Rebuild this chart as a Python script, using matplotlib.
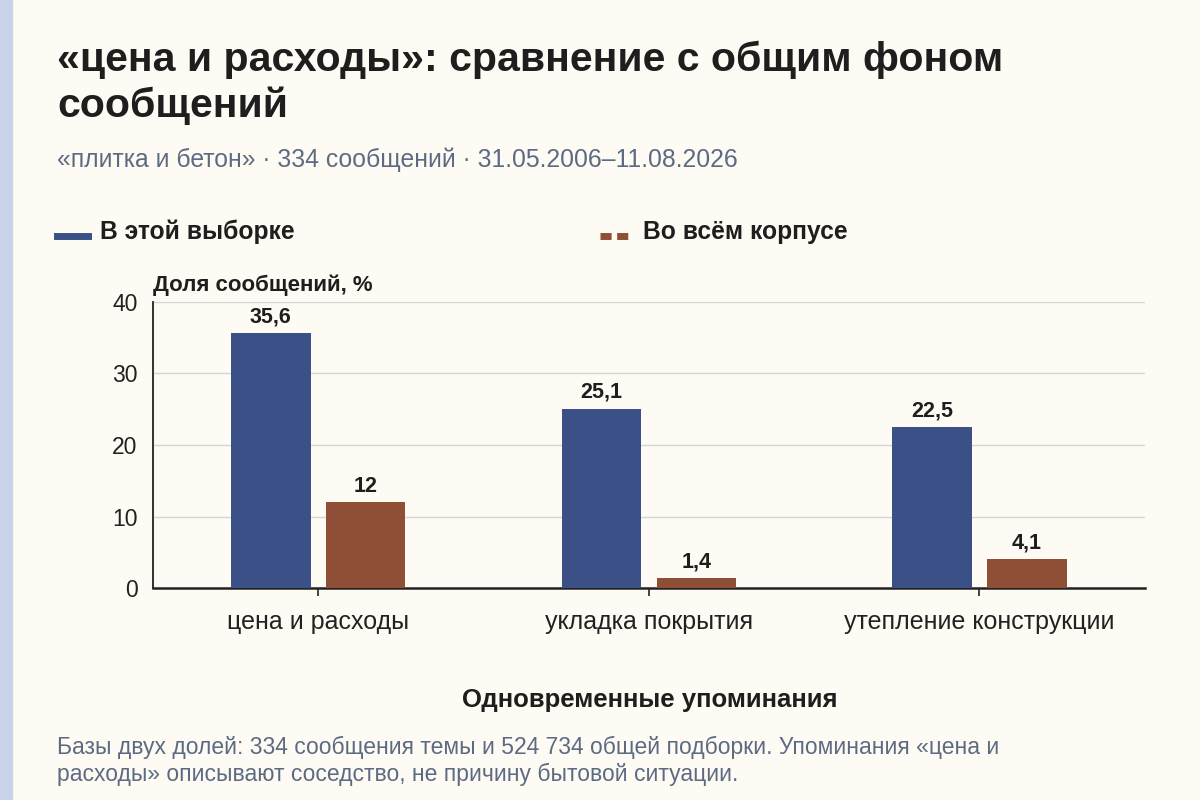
import numpy as np
import matplotlib.pyplot as plt
from matplotlib.lines import Line2D
from matplotlib.patches import Rectangle

plt.rcParams['font.family'] = ['Liberation Sans', 'DejaVu Sans']

categories = ['цена и расходы', 'укладка покрытия', 'утепление конструкции']
sample_vals = [35.6, 25.1, 22.5]
corpus_vals = [12, 1.4, 4.1]
sample_lbls = ['35,6', '25,1', '22,5']
corpus_lbls = ['12', '1,4', '4,1']
yticks = [0, 10, 20, 30, 40]

bg = '#fdfbf3'
c_blue = '#3c5088'
c_brown = '#8f4e36'
dark = '#1e1e1e'
grey_txt = '#5d6b82'

fig = plt.figure(figsize=(12, 8), dpi=100, facecolor=bg)
fig.patches.append(Rectangle((0, 0), 12/1200, 1, transform=fig.transFigure,
                             color='#c9d3e8', zorder=0))

ax = fig.add_axes([0.1275, 0.265, 0.8265, 0.3575], facecolor=bg)
x = np.arange(len(categories))
w = 0.24
off = 0.1435
b1 = ax.bar(x - off, sample_vals, w, color=c_blue, zorder=3)
b2 = ax.bar(x + off, corpus_vals, w, color=c_brown, zorder=3)
for bars, lbls in [(b1, sample_lbls), (b2, corpus_lbls)]:
    for rect, lbl in zip(bars, lbls):
        ax.annotate(lbl, (rect.get_x() + rect.get_width()/2, rect.get_height()),
                    xytext=(0, 4), textcoords='offset points', ha='center', va='bottom',
                    fontsize=15.5, fontweight='bold', color=dark)

ax.set_xlim(-0.5, 2.5)
ax.set_ylim(0, 40)
ax.set_yticks(yticks)
ax.set_xticks(x)
ax.set_xticklabels(categories, fontsize=18, color='#222222')
ax.tick_params(axis='y', labelsize=16.5, colors='#222222', length=0, pad=11)
ax.tick_params(axis='x', length=6, width=1.2, color='#222222', pad=10)
ax.grid(axis='y', color='#d5d5d5', linewidth=1, zorder=0)
for s in ['top', 'right']:
    ax.spines[s].set_visible(False)
ax.spines['left'].set_color('#222222')
ax.spines['bottom'].set_color('#222222')
ax.spines['left'].set_linewidth(1.3)
ax.spines['bottom'].set_linewidth(1.8)

fig.text(153/1200, 1 - 285/800, 'Доля сообщений, %', fontsize=16, fontweight='bold',
         color=dark, ha='left', va='center')

fig.text(57/1200, 1 - 83/800, '«цена и расходы»: сравнение с общим фоном\nсообщений',
         fontsize=29.5, fontweight='bold', color=dark, ha='left', va='center',
         linespacing=1.24)
fig.text(57/1200, 1 - 160/800, '«плитка и бетон» · 334 сообщений · 31.05.2006–11.08.2026',
         fontsize=17.8, color=grey_txt, ha='left', va='center')

# legend
fig.add_artist(Line2D([57/1200, 88/1200], [1 - 236/800] * 2, color=c_blue, lw=5))
fig.text(100/1200, 1 - 232/800, 'В этой выборке', fontsize=17.7, fontweight='bold',
         color=dark, ha='left', va='center')
fig.add_artist(Line2D([600/1200, 632/1200], [1 - 236/800] * 2, color=c_brown, lw=5,
                      linestyle=(0, (1.6, 0.8))))
fig.text(643/1200, 1 - 232/800, 'Во всём корпусе', fontsize=17.7, fontweight='bold',
         color=dark, ha='left', va='center')

fig.text(650/1200, 1 - 700/800, 'Одновременные упоминания', fontsize=18.5, fontweight='bold',
         color=dark, ha='center', va='center')
fig.text(57/1200, 1 - 761/800,
         'Базы двух долей: 334 сообщения темы и 524 734 общей подборки. Упоминания «цена и\n'
         'расходы» описывают соседство, не причину бытовой ситуации.',
         fontsize=16.5, color=grey_txt, ha='left', va='center', linespacing=1.2)

fig.savefig('out.png', dpi=100, facecolor=bg)
